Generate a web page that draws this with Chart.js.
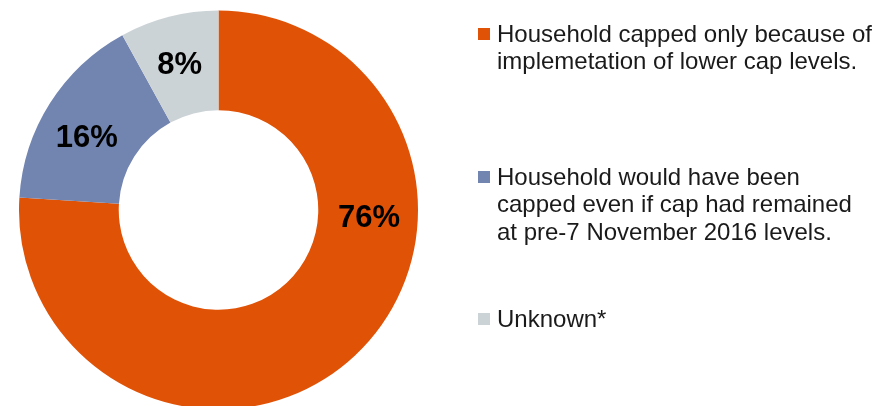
<!doctype html>
<html>
  <head>
    <script src="https://cdn.jsdelivr.net/npm/chart.js@4"></script>
    <style>
      html, body { margin: 0; padding: 0; background: #fff; overflow: hidden; }
      #wrap { width: 892px; height: 420px; }
    </style>
  </head>

  <body>
    <div id="wrap">
      <canvas id="canvas" width="892" height="420"></canvas>
    </div>
    <script>
      // legend text, one entry per slice, already split into lines
      const categories = [
        ['Household capped only because of', 'implemetation of lower cap levels.'],
        ['Household would have been', 'capped even if cap had remained', 'at pre-7 November 2016 levels.'],
        ['Unknown*'],
      ];
      const shares = [76, 16, 8];
      const colors = ['#e05206', '#7285b0', '#ccd3d6'];

      // percentage text inside each slice
      const sliceLabels = {
        id: 'sliceLabels',
        afterDatasetsDraw(chart, args, opts) {
          const ctx = chart.ctx;
          const meta = chart.getDatasetMeta(0);
          ctx.save();
          ctx.font = 'bold 31px "Liberation Sans", Arial, sans-serif';
          ctx.fillStyle = '#000';
          ctx.textAlign = 'center';
          ctx.textBaseline = 'middle';
          meta.data.forEach((arc, i) => {
            const p = arc.getProps(['x', 'y', 'startAngle', 'endAngle', 'innerRadius', 'outerRadius'], true);
            const f = opts.at[i];
            const a = p.startAngle + (p.endAngle - p.startAngle) * f;
            const r = (p.innerRadius + p.outerRadius) / 2 + 1;
            ctx.fillText(chart.data.datasets[0].data[i] + '%', p.x + Math.cos(a) * r, p.y + Math.sin(a) * r + 1);
          });
          ctx.restore();
        },
      };

      // legend at the right with wrapped lines
      const sideLegend = {
        id: 'sideLegend',
        afterDraw(chart, args, opts) {
          const ctx = chart.ctx;
          const bg = chart.data.datasets[0].backgroundColor;
          ctx.save();
          ctx.font = '24px "Liberation Sans", Arial, sans-serif';
          ctx.textBaseline = 'alphabetic';
          ctx.textAlign = 'left';
          chart.data.labels.forEach((lines, i) => {
            const y0 = opts.baselines[i];
            ctx.fillStyle = bg[i];
            ctx.fillRect(opts.x, y0 - 14, 12, 12);
            ctx.fillStyle = '#1a1a1a';
            lines.forEach((t, j) => ctx.fillText(t, opts.x + 19, y0 + j * opts.lineHeight));
          });
          ctx.restore();
        },
      };

      new Chart(document.getElementById('canvas').getContext('2d'), {
        type: 'doughnut',
        data: {
          labels: categories,
          datasets: [
            {
              data: shares,
              backgroundColor: colors,
              borderWidth: 0,
            },
          ],
        },
        options: {
          responsive: false,
          animation: false,
          cutout: '50%',
          layout: {
            padding: { left: 19, right: 474, top: 10.5, bottom: 10.5 },
          },
          plugins: {
            legend: { display: false },
            tooltip: { enabled: false },
            sliceLabels: { at: [0.339, 0.44, 0.48] },
            sideLegend: { x: 478, baselines: [42, 185, 327], lineHeight: 27.3 },
          },
        },
        plugins: [sliceLabels, sideLegend],
      });
    </script>
  </body>
</html>
